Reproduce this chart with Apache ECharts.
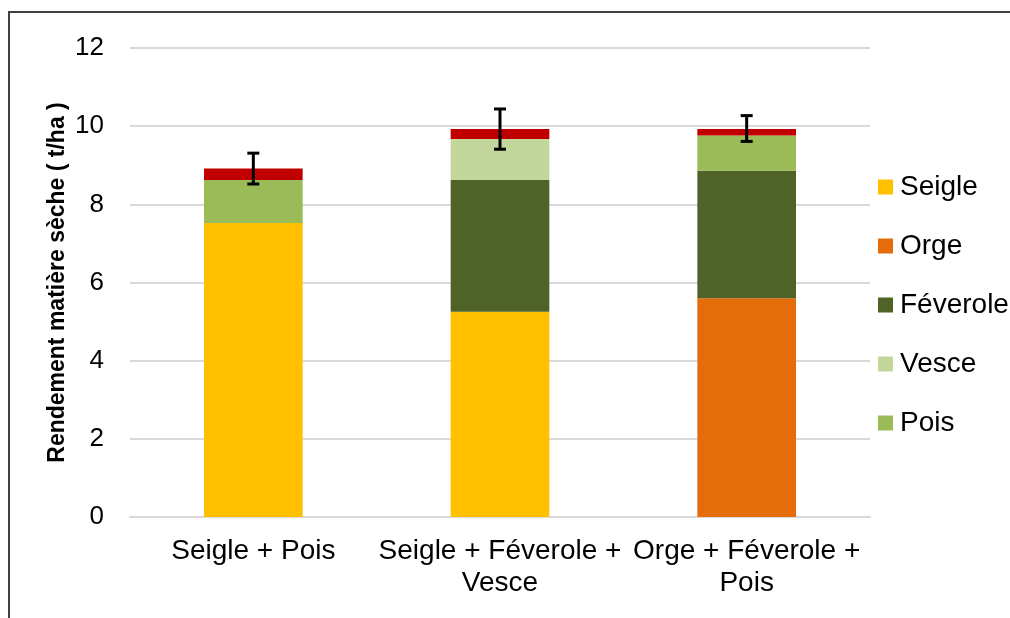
<!DOCTYPE html>
<html>
<head>
<meta charset="utf-8">
<script src="https://cdn.jsdelivr.net/npm/echarts@6/dist/echarts.min.js"></script>
<style>
  html, body { margin: 0; padding: 0; background: #fff; }
  #chart { width: 1010px; height: 618px; }
</style>
</head>
<body>
<div id="chart"></div>
<script>
// données (t/ha)
const categories = ["Seigle + Pois", "Seigle + Féverole +\nVesce", "Orge + Féverole +\nPois"];
const seigle = [7.52, 5.25, 0];
const orge = [0, 0, 5.6];
const feverole = [0, 3.37, 3.26];
const vesce = [0, 1.05, 0];
const pois = [1.1, 0, 0.9];
const adventices = [0.3, 0.26, 0.17];
const errLow = [8.52, 9.41, 9.61];
const errHigh = [9.31, 10.44, 10.27];

const chart = echarts.init(document.getElementById("chart"));
const font = "Liberation Sans, Arial, sans-serif";

const bar = (name, data, color) => ({
  name: name,
  type: "bar",
  stack: "total",
  barWidth: "40%",
  data: data,
  itemStyle: { color: color },
});

chart.setOption({
  animation: false,
  textStyle: { fontFamily: font },
  grid: { left: 130, right: 140, top: 48, bottom: 101, containLabel: false },
  graphic: [
    {
      type: "rect",
      shape: { x: 9, y: 12, width: 1020, height: 630 },
      style: { fill: null, stroke: "#404040", lineWidth: 2 },
      silent: true,
    },
  ],
  legend: {
    orient: "vertical",
    left: 873,
    top: 168,
    itemWidth: 15,
    itemHeight: 15,
    itemGap: 31,
    icon: "rect",
    data: ["Seigle", "Orge", "Féverole", "Vesce", "Pois"],
    textStyle: { fontSize: 28, color: "#000", fontFamily: font, padding: [0, 0, 0, 2] },
  },
  xAxis: {
    type: "category",
    data: categories,
    axisTick: { show: false },
    axisLine: { lineStyle: { color: "#D9D9D9", width: 2 } },
    axisLabel: { interval: 0, fontSize: 28, color: "#000", margin: 18, lineHeight: 32 },
  },
  yAxis: {
    type: "value",
    min: 0,
    max: 12,
    interval: 2,
    name: "Rendement matière sèche ( t/ha )",
    nameLocation: "middle",
    nameGap: 61,
    nameMoveOverlap: false,
    nameTextStyle: { fontSize: 23, fontWeight: "bold", color: "#000" },
    axisLabel: { fontSize: 26, color: "#000", margin: 26 },
    splitLine: { lineStyle: { color: "#D9D9D9", width: 2 } },
  },
  series: [
    bar("Seigle", seigle, "#FFC000"),
    bar("Orge", orge, "#E46C0A"),
    bar("Féverole", feverole, "#4F6228"),
    bar("Vesce", vesce, "#C3D69B"),
    bar("Pois", pois, "#9BBB59"),
    bar("Adventices", adventices, "#C00000"),
    {
      name: "Erreur",
      type: "custom",
      data: categories.map((c, i) => [i, errLow[i], errHigh[i]]),
      z: 10,
      renderItem: (params, api) => {
        const lo = api.coord([api.value(0), api.value(1)]);
        const hi = api.coord([api.value(0), api.value(2)]);
        const w = 6;
        const style = { stroke: "#000", lineWidth: 3 };
        return {
          type: "group",
          children: [
            { type: "line", shape: { x1: lo[0], y1: lo[1], x2: hi[0], y2: hi[1] }, style: style },
            { type: "line", shape: { x1: lo[0] - w, y1: lo[1], x2: lo[0] + w, y2: lo[1] }, style: style },
            { type: "line", shape: { x1: hi[0] - w, y1: hi[1], x2: hi[0] + w, y2: hi[1] }, style: style },
          ],
        };
      },
    },
  ],
});
</script>
</body>
</html>
